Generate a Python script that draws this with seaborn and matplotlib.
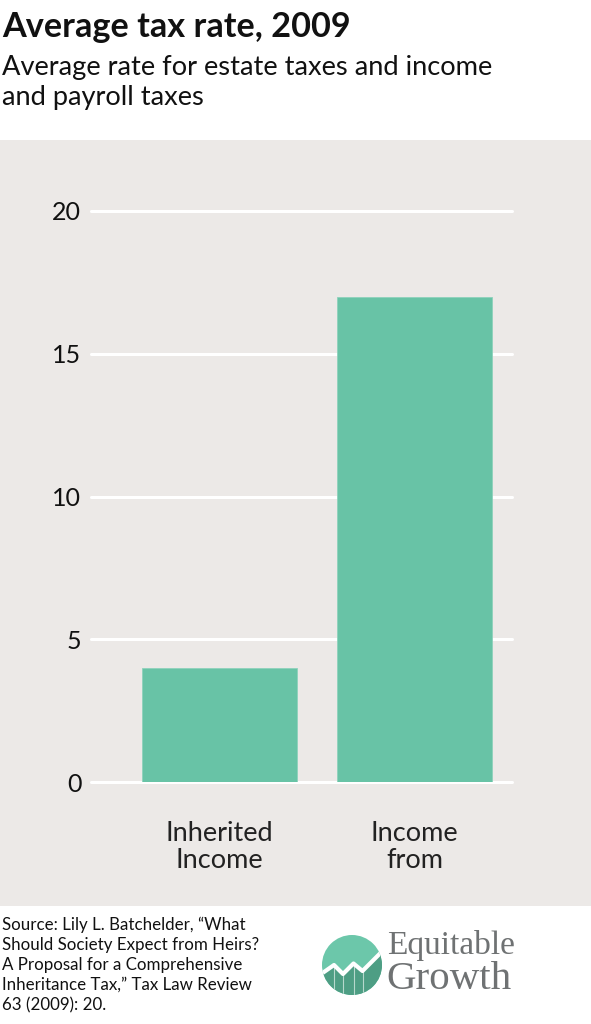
import matplotlib
matplotlib.use("Agg")
import matplotlib.pyplot as plt
import matplotlib.patches as mpatches
import numpy as np
import pandas as pd
import seaborn as sns

# données
categories = ["Inherited\nIncome", "Income\nfrom"]
tax_rates = [4.0, 17.0]
y_ticks = [0, 5, 10, 15, 20]

source_lines = [
    "Source: Lily L. Batchelder, \u201cWhat",
    "Should Society Expect from Heirs?",
    "A Proposal for a Comprehensive",
    "Inheritance Tax,\u201d Tax Law Review",
    "63 (2009): 20.",
]

bg = "#ECE9E7"
bar_color = "#68C3A6"

sns.set_style("white")
plt.rcParams["font.family"] = ["Lato", "DejaVu Sans"]

df = pd.DataFrame({"category": categories, "rate": tax_rates})

fig = plt.figure(figsize=(5.91, 10.24), dpi=100)
fig.patch.set_facecolor("white")

# panneau gris
bgax = fig.add_axes([0, 1 - 906 / 1024, 1, (906 - 140) / 1024], zorder=-5)
bgax.set_facecolor(bg)
bgax.set_xticks([])
bgax.set_yticks([])
for s in bgax.spines.values():
    s.set_visible(False)

ax = fig.add_axes([91 / 591, 1 - 782 / 1024, (512 - 91) / 591, (782 - 211) / 1024])
ax.set_facecolor("none")
sns.barplot(data=df, x="category", y="rate", color=bar_color, saturation=1,
            width=0.795, ax=ax, zorder=3, edgecolor="#8ED2BC", linewidth=0.6)
ax.set_xlim(-0.66, 1.5)
ax.set_ylim(0, 20)
ax.set_yticks(y_ticks)
for t in y_ticks:
    ax.axhline(t, color="white", lw=2.2, zorder=1, clip_on=False)
for s in ax.spines.values():
    s.set_visible(False)
ax.tick_params(axis="y", length=0, labelsize=18, labelcolor="#111111", pad=7)
ax.tick_params(axis="x", length=7, width=2, color="white", labelsize=19.5,
               labelcolor="#222222", pad=21)
for lbl in ax.get_xticklabels():
    lbl.set_linespacing(1.12)
ax.set_xlabel("")
ax.set_ylabel("")

# titres
fig.text(2 / 591, 1 - 37 / 1024, "Average tax rate, 2009", fontsize=24.7,
         fontweight="bold", color="#111111", va="baseline")
fig.text(2 / 591, 1 - 75 / 1024, "Average rate for estate taxes and income",
         fontsize=19.6, color="#111111", va="baseline")
fig.text(2 / 591, 1 - 105 / 1024, "and payroll taxes",
         fontsize=19.6, color="#111111", va="baseline")

# source
for i, line in enumerate(source_lines):
    fig.text(2 / 591, 1 - (930 + 20 * i) / 1024, line, fontsize=12.2,
             color="#111111", va="baseline")

# logo
lax = fig.add_axes([322 / 591, 1 - 995 / 1024, 60 / 591, 60 / 1024])
lax.set_xlim(-1, 1)
lax.set_ylim(-1, 1)
lax.set_aspect("equal")
lax.axis("off")
circ = mpatches.Circle((0, 0), 1, facecolor="#6CC7AA", edgecolor="none")
lax.add_patch(circ)
zx = [-1.1, -0.6, -0.3, 0.05, 0.35, 1.1]
zy = [-0.35, 0.0, -0.3, 0.05, -0.2, 0.55]
poly = mpatches.Polygon(list(zip(zx, zy)) + [(1.1, -1.1), (-1.1, -1.1)],
                        facecolor="#4E9E84", edgecolor="none")
lax.add_patch(poly)
poly.set_clip_path(circ)
ln, = lax.plot(zx, zy, color="white", lw=3)
ln.set_clip_path(circ)
for vx in [-0.6, -0.3, 0.05, 0.35]:
    v, = lax.plot([vx, vx], [-1.1, np.interp(vx, zx, zy)], color="white", lw=0.8, alpha=0.6)
    v.set_clip_path(circ)

fig.text(387 / 591, 1 - 954 / 1024, "Equitable", fontsize=24, color="#6F7273",
         family=["Liberation Serif", "DejaVu Serif"], va="baseline")
fig.text(386 / 591, 1 - 989 / 1024, "Growth", fontsize=29.5, color="#6F7273",
         family=["Liberation Serif", "DejaVu Serif"], va="baseline")

fig.savefig("out.png", dpi=100, facecolor=fig.get_facecolor())
